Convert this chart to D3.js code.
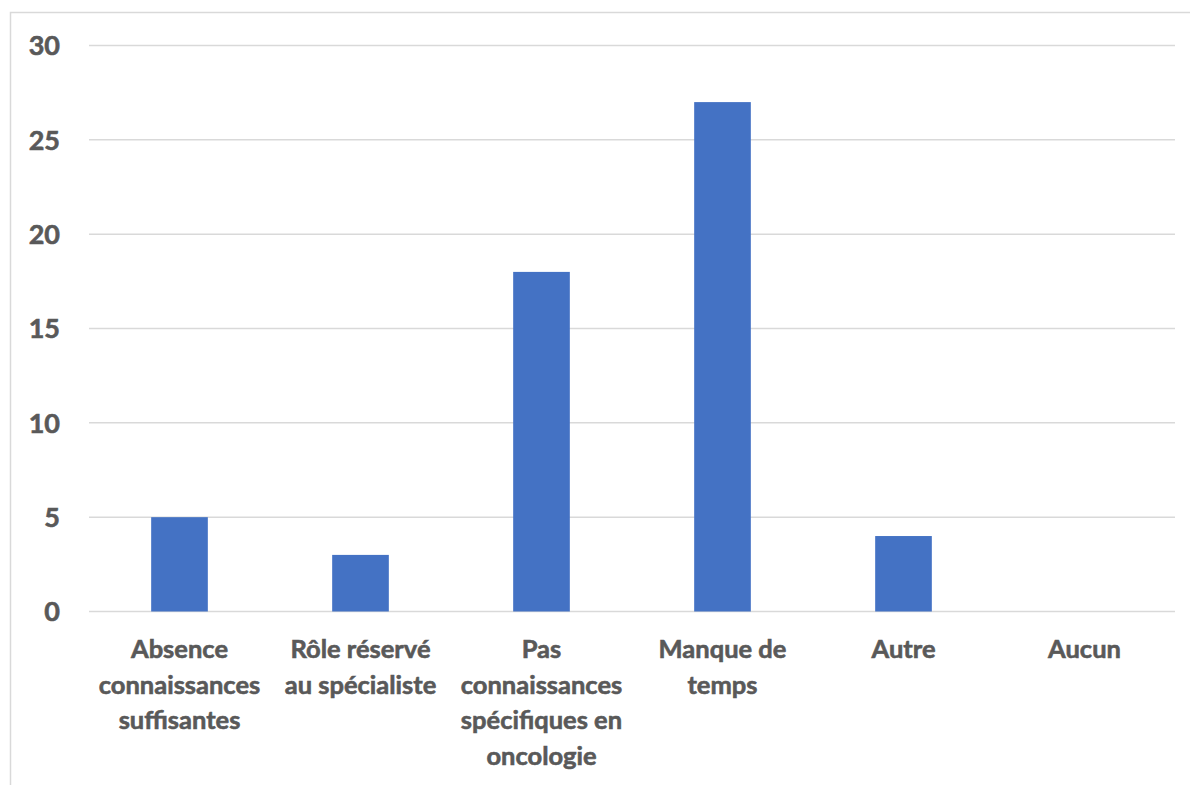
<!DOCTYPE html>
<html>
<head>
<meta charset="utf-8">
<script src="https://cdn.jsdelivr.net/npm/d3@7"></script>
<style>
  html, body { margin: 0; padding: 0; background: #ffffff; }
  svg { display: block; }
</style>
</head>
<body>
<svg id="chart" width="1190" height="785"></svg>
<script>
const categories = [
  ["Absence", "connaissances", "suffisantes"],
  ["Rôle réservé", "au spécialiste"],
  ["Pas", "connaissances", "spécifiques en", "oncologie"],
  ["Manque de", "temps"],
  ["Autre"],
  ["Aucun"]
];
const values = [5, 3, 18, 27, 4, 0];
const yTicks = [0, 5, 10, 15, 20, 25, 30];

(function () {
const svg = d3.select("#chart");
const mLeft = 89, mRight = 1175, mTop = 45.5, mBottom = 611.5;
const font = "Lato, 'Open Sans', sans-serif";
const textColor = "#595959";

// chart frame
svg.append("rect")
  .attr("x", 10.5).attr("y", 12.5)
  .attr("width", 1200).attr("height", 800)
  .attr("fill", "#ffffff").attr("stroke", "#d9d9d9").attr("stroke-width", 1.5);

const x = d3.scaleBand().domain(d3.range(categories.length)).range([mLeft, mRight]).padding(0);
const y = d3.scaleLinear().domain([0, 30]).range([mBottom, mTop]);

// gridlines
svg.append("g").selectAll("line").data(yTicks).join("line")
  .attr("x1", mLeft).attr("x2", mRight)
  .attr("y1", d => y(d)).attr("y2", d => y(d))
  .attr("stroke", "#d9d9d9").attr("stroke-width", 1.5);

// y tick labels
svg.append("g").selectAll("text").data(yTicks).join("text")
  .attr("x", 60).attr("y", d => y(d))
  .attr("dy", "0.36em")
  .attr("text-anchor", "end")
  .attr("font-family", font).attr("font-weight", "bold")
  .attr("font-size", 27).attr("fill", textColor)
  .attr("stroke", textColor).attr("stroke-width", 0.6)
  .text(d => d);

// bars
const barW = x.bandwidth() * 0.313;
svg.append("g").selectAll("rect").data(values).join("rect")
  .attr("x", (d, i) => x(i) + x.bandwidth() / 2 - barW / 2)
  .attr("width", barW)
  .attr("y", d => y(d))
  .attr("height", d => y(0) - y(d))
  .attr("fill", "#4472c4");

// category labels
const lab = svg.append("g").selectAll("text").data(categories).join("text")
  .attr("text-anchor", "middle")
  .attr("font-family", font).attr("font-weight", "bold")
  .attr("font-size", 25.5).attr("fill", textColor)
  .attr("stroke", textColor).attr("stroke-width", 0.6);
lab.each(function(lines, i) {
  const t = d3.select(this);
  lines.forEach((l, j) => {
    t.append("tspan")
      .attr("x", x(i) + x.bandwidth() / 2)
      .attr("y", 658 + j * 35.5)
      .text(l);
  });
});
})();
</script>
</body>
</html>
